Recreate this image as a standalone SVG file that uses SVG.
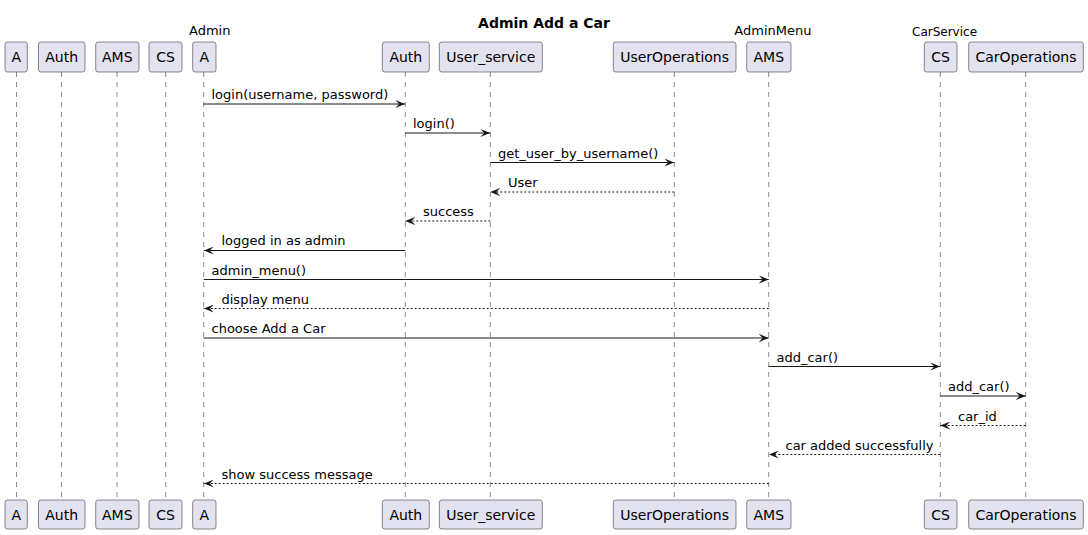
<svg xmlns="http://www.w3.org/2000/svg" width="1088" height="535" viewBox="0 0 1088 535">
<style>
.box{fill:#E2E2F0;stroke:#181818;stroke-width:0.5}
.pt{font-family:"DejaVu Sans",sans-serif;font-size:14px;fill:#000;text-anchor:middle}
.lab{font-family:"DejaVu Sans",sans-serif;font-size:13px;fill:#000}
.life{stroke:#181818;stroke-width:0.5;stroke-dasharray:5,5}
.msg{stroke:#181818;stroke-width:1;fill:none}
.ret{stroke:#181818;stroke-width:1;fill:none;stroke-dasharray:2,2}
.ml{font-family:"DejaVu Sans",sans-serif;font-size:13px;fill:#000}
.title{font-family:"DejaVu Sans",sans-serif;font-size:14px;font-weight:bold;fill:#000;text-anchor:middle}
</style>
<defs>
<marker id="ah" viewBox="0 0 10 8" refX="10" refY="4" markerWidth="10" markerHeight="8" markerUnits="userSpaceOnUse" orient="auto">
<path d="M0,0 L10,4 L0,8 L4,4 Z" fill="#181818"/>
</marker>
</defs>
<rect width="1088" height="535" fill="#fff"/>
<text class="title" x="544" y="28">Admin Add a Car</text>
<g id="lifelines">
<line class="life" x1="16.5" y1="72" x2="16.5" y2="500"/>
<line class="life" x1="61.5" y1="72" x2="61.5" y2="500"/>
<line class="life" x1="117" y1="72" x2="117" y2="500"/>
<line class="life" x1="165.7" y1="72" x2="165.7" y2="500"/>
<line class="life" x1="203.7" y1="72" x2="203.7" y2="500"/>
<line class="life" x1="405.3" y1="72" x2="405.3" y2="500"/>
<line class="life" x1="490.3" y1="72" x2="490.3" y2="500"/>
<line class="life" x1="674.3" y1="72" x2="674.3" y2="500"/>
<line class="life" x1="768.7" y1="72" x2="768.7" y2="500"/>
<line class="life" x1="940.3" y1="72" x2="940.3" y2="500"/>
<line class="life" x1="1025.7" y1="72" x2="1025.7" y2="500"/>
</g>
<g id="p-A1"><rect class="box" x="5" y="42" width="22.3" height="30" rx="2.5"/><text class="pt" x="16.2" y="62">A</text><rect class="box" x="5" y="500" width="22.3" height="29" rx="2.5"/><text class="pt" x="16.2" y="520">A</text></g>
<g id="p-Auth1"><rect class="box" x="38.5" y="42" width="46.5" height="30" rx="2.5"/><text class="pt" x="61.7" y="62">Auth</text><rect class="box" x="38.5" y="500" width="46.5" height="29" rx="2.5"/><text class="pt" x="61.7" y="520">Auth</text></g>
<g id="p-AMS1"><rect class="box" x="95.7" y="42" width="43.3" height="30" rx="2.5"/><text class="pt" x="117.3" y="62">AMS</text><rect class="box" x="95.7" y="500" width="43.3" height="29" rx="2.5"/><text class="pt" x="117.3" y="520">AMS</text></g>
<g id="p-CS1"><rect class="box" x="149" y="42" width="33" height="30" rx="2.5"/><text class="pt" x="165.5" y="62">CS</text><rect class="box" x="149" y="500" width="33" height="29" rx="2.5"/><text class="pt" x="165.5" y="520">CS</text></g>
<g id="p-A"><text class="lab" x="189" y="34.5">Admin</text><rect class="box" x="192.7" y="42" width="23.3" height="30" rx="2.5"/><text class="pt" x="204.3" y="62">A</text><rect class="box" x="192.7" y="500" width="23.3" height="29" rx="2.5"/><text class="pt" x="204.3" y="520">A</text></g>
<g id="p-Auth"><rect class="box" x="382.3" y="42" width="47" height="30" rx="2.5"/><text class="pt" x="405.8" y="62">Auth</text><rect class="box" x="382.3" y="500" width="47" height="29" rx="2.5"/><text class="pt" x="405.8" y="520">Auth</text></g>
<g id="p-User_service"><rect class="box" x="439.3" y="42" width="103" height="30" rx="2.5"/><text class="pt" x="490.8" y="62">User_service</text><rect class="box" x="439.3" y="500" width="103" height="29" rx="2.5"/><text class="pt" x="490.8" y="520">User_service</text></g>
<g id="p-UserOperations"><rect class="box" x="613.3" y="42" width="122.7" height="30" rx="2.5"/><text class="pt" x="674.6" y="62">UserOperations</text><rect class="box" x="613.3" y="500" width="122.7" height="29" rx="2.5"/><text class="pt" x="674.6" y="520">UserOperations</text></g>
<g id="p-AMS"><text class="lab" x="734.3" y="34.5">AdminMenu</text><rect class="box" x="746.7" y="42" width="44.3" height="30" rx="2.5"/><text class="pt" x="768.8" y="62">AMS</text><rect class="box" x="746.7" y="500" width="44.3" height="29" rx="2.5"/><text class="pt" x="768.8" y="520">AMS</text></g>
<g id="p-CS"><text class="lab" x="912" y="36" style="font-size:12px">CarService</text><rect class="box" x="924.3" y="42" width="32.7" height="30" rx="2.5"/><text class="pt" x="940.6" y="62">CS</text><rect class="box" x="924.3" y="500" width="32.7" height="29" rx="2.5"/><text class="pt" x="940.6" y="520">CS</text></g>
<g id="p-CarOperations"><rect class="box" x="968.7" y="42" width="114.6" height="30" rx="2.5"/><text class="pt" x="1026" y="62">CarOperations</text><rect class="box" x="968.7" y="500" width="114.6" height="29" rx="2.5"/><text class="pt" x="1026" y="520">CarOperations</text></g>
<g id="connectors">
<line class="msg" x1="203.7" y1="104" x2="405.3" y2="104" marker-end="url(#ah)"/><text class="ml" x="211.5" y="99">login(username, password)</text>
<line class="msg" x1="405.3" y1="133" x2="490.3" y2="133" marker-end="url(#ah)"/><text class="ml" x="413" y="128">login()</text>
<line class="msg" x1="490.3" y1="162.5" x2="674.3" y2="162.5" marker-end="url(#ah)"/><text class="ml" x="498" y="157.5">get_user_by_username()</text>
<line class="ret" x1="674.3" y1="192" x2="490.3" y2="192" marker-end="url(#ah)"/><text class="ml" x="508" y="187">User</text>
<line class="ret" x1="490.3" y1="221" x2="405.3" y2="221" marker-end="url(#ah)"/><text class="ml" x="423" y="216">success</text>
<line class="msg" x1="405.3" y1="250.5" x2="203.7" y2="250.5" marker-end="url(#ah)"/><text class="ml" x="221.5" y="245">logged in as admin</text>
<line class="msg" x1="203.7" y1="279.5" x2="768.7" y2="279.5" marker-end="url(#ah)"/><text class="ml" x="211.5" y="274.5">admin_menu()</text>
<line class="ret" x1="768.7" y1="308.5" x2="203.7" y2="308.5" marker-end="url(#ah)"/><text class="ml" x="221.5" y="303.5">display menu</text>
<line class="msg" x1="203.7" y1="338" x2="768.7" y2="338" marker-end="url(#ah)"/><text class="ml" x="211.5" y="333">choose Add a Car</text>
<line class="msg" x1="768.7" y1="366.5" x2="940.3" y2="366.5" marker-end="url(#ah)"/><text class="ml" x="776.5" y="361.5">add_car()</text>
<line class="msg" x1="940.3" y1="396" x2="1025.7" y2="396" marker-end="url(#ah)"/><text class="ml" x="948" y="391">add_car()</text>
<line class="ret" x1="1025.7" y1="425.5" x2="940.3" y2="425.5" marker-end="url(#ah)"/><text class="ml" x="958" y="420.5">car_id</text>
<line class="ret" x1="940.3" y1="454.5" x2="768.7" y2="454.5" marker-end="url(#ah)"/><text class="ml" x="785.5" y="449.5">car added successfully</text>
<line class="ret" x1="768.7" y1="483.5" x2="203.7" y2="483.5" marker-end="url(#ah)"/><text class="ml" x="221.5" y="478.5">show success message</text>
</g>
</svg>
